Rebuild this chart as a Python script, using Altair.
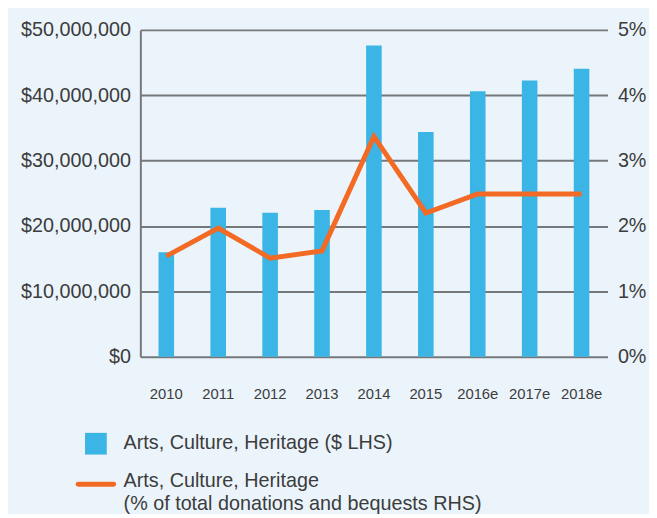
import altair as alt
import pandas as pd

years = ["2010", "2011", "2012", "2013", "2014", "2015", "2016e", "2017e", "2018e"]
dollars = [16.0e6, 22.8e6, 22.05e6, 22.45e6, 47.6e6, 34.4e6, 40.6e6, 42.25e6, 44.05e6]
pct = [1.54, 1.97, 1.51, 1.62, 3.37, 2.2, 2.49, 2.49, 2.49]

left_ticks = [0, 10e6, 20e6, 30e6, 40e6, 50e6]
right_ticks = [0, 1, 2, 3, 4, 5]

legend_bar = "Arts, Culture, Heritage ($ LHS)"
legend_line_1 = "Arts, Culture, Heritage"
legend_line_2 = "(% of total donations and bequests RHS)"

BAR = "#3bb4e6"
LINE = "#f26a24"
GRID = "#75787b"
TXT = "#3c3c3c"
FONT = "Liberation Sans"

df = pd.DataFrame({"year": years, "dollars": dollars, "pct": pct})

xenc = alt.X("year:N", sort=years,
             scale=alt.Scale(paddingInner=0.7, paddingOuter=0.35),
             axis=alt.Axis(title=None, labelAngle=0, domain=False, ticks=False,
                           labelPadding=30, labelFontSize=15, labelColor=TXT,
                           labelFont=FONT, grid=False))

bars = alt.Chart(df).mark_bar(color=BAR).encode(
    x=xenc,
    y=alt.Y("dollars:Q", scale=alt.Scale(domain=[0, 50e6], nice=False),
            axis=alt.Axis(title=None, values=left_ticks, format="$,.0f",
                          orient="left", domain=True, domainColor=GRID, domainWidth=2,
                          ticks=False, grid=True, gridColor=GRID, gridWidth=2,
                          labelPadding=10, labelFontSize=20, labelColor=TXT,
                          labelFont=FONT)),
)

line = alt.Chart(df).mark_line(color=LINE, strokeWidth=5).encode(
    x=alt.X("year:N", sort=years),
    y=alt.Y("pct:Q", scale=alt.Scale(domain=[0, 5], nice=False),
            axis=alt.Axis(title=None, values=right_ticks, orient="right",
                          labelExpr="datum.value + '%'", domain=False, ticks=False,
                          grid=False, labelPadding=10, labelFontSize=20,
                          labelColor=TXT, labelFont=FONT)),
)

one = pd.DataFrame({"k": [0]})
leg_sq = alt.Chart(one).mark_square(size=484, color=BAR, opacity=1).encode(
    x=alt.value(-45), y=alt.value(419))
leg_t1 = alt.Chart(one).mark_text(align="left", baseline="middle", fontSize=20,
                                  font=FONT, color=TXT).encode(
    x=alt.value(-17), y=alt.value(418), text=alt.value(legend_bar))
leg_rule = alt.Chart(one).mark_rule(color=LINE, strokeWidth=5, strokeCap="round").encode(
    x=alt.value(-63), x2=alt.value(-27), y=alt.value(460))
leg_t2 = alt.Chart(one).mark_text(align="left", baseline="middle", fontSize=20,
                                  font=FONT, color=TXT).encode(
    x=alt.value(-17), y=alt.value(457), text=alt.value(legend_line_1))
leg_t3 = alt.Chart(one).mark_text(align="left", baseline="middle", fontSize=20,
                                  font=FONT, color=TXT).encode(
    x=alt.value(-17), y=alt.value(480), text=alt.value(legend_line_2))

main = alt.layer(bars, line).resolve_scale(y="independent")

chart = alt.layer(main, leg_sq, leg_t1, leg_rule, leg_t2, leg_t3).properties(
    width=473, height=331,
    autosize=alt.AutoSizeParams(type="none"),
    padding={"left": 134, "top": 19, "right": 42, "bottom": 156},
    background="#ebf4fb",
).configure_view(stroke=None)

chart.save("out.html", embed_options={"renderer": "svg", "actions": False})
